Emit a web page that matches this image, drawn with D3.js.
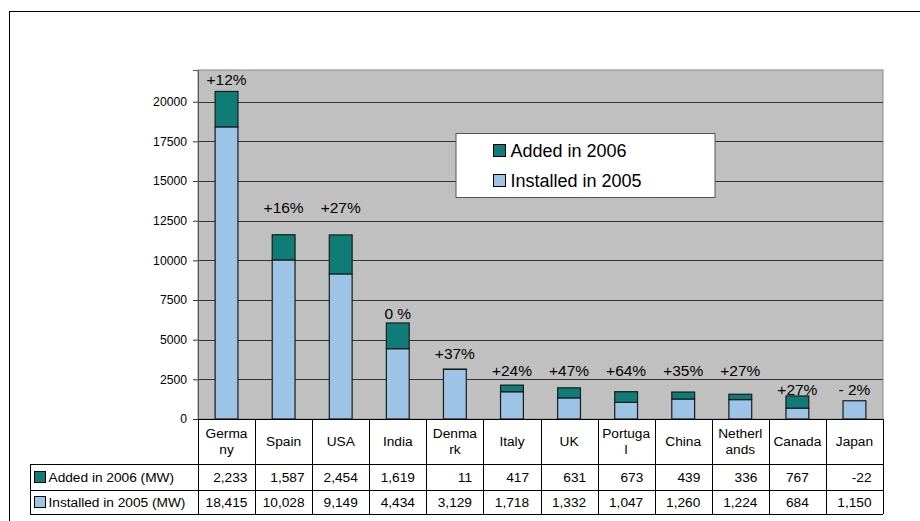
<!DOCTYPE html>
<html lang="en">
  <head>
    <meta charset="UTF-8" />
    <title>Wind capacity</title>
    <style>
      body { margin: 0; background: #fff; }
      svg { display: block; font-family: "Liberation Sans", Arial, sans-serif; }
    </style>
  </head>
  <body>
    <script src="https://d3js.org/d3.v7.min.js"></script>
    <script>
      const categories = ['Germany', 'Spain', 'USA', 'India', 'Denmark', 'Italy', 'UK', 'Portugal', 'China', 'Netherlands', 'Canada', 'Japan']
      const added2006 = [2233, 1587, 2454, 1619, 11, 417, 631, 673, 439, 336, 767, -22]
      const installed2005 = [18415, 10028, 9149, 4434, 3129, 1718, 1332, 1047, 1260, 1224, 684, 1150]
      const pctLabels = ['+12%', '+16%', '+27%', '0 %', '+37%', '+24%', '+47%', '+64%', '+35%', '+27%', '+27%', '- 2%']
      // height (MW) of the baseline of each % label
      const pctLabelLevel = [21050, 13000, 13000, 6300, 3760, 2710, 2710, 2710, 2710, 2710, 1513, 1513]
      const yTicks = [0, 2500, 5000, 7500, 10000, 12500, 15000, 17500, 20000]
      const seriesNames = ['Added in 2006', 'Installed in 2005']

      const width = 920
      const height = 521
      const plot = { left: 198, right: 883, top: 70, bottom: 419 }
      const colors = { added: '#0f7c78', installed: '#9dc3e6' }

      const svg = d3.select('body').append('svg')
        .attr('width', width).attr('height', height)

      // outer chart frame (runs off the page at right and bottom)
      svg.append('rect')
        .attr('x', 9.5).attr('y', 11.5)
        .attr('width', 1000).attr('height', 600)
        .attr('fill', '#fff').attr('stroke', '#000')

      const x = d3.scaleBand()
        .domain(categories)
        .range([plot.left, plot.right])
        .paddingInner(0.6)
        .paddingOuter(0.3)

      const col = d3.scaleBand()
        .domain(categories)
        .range([plot.left, plot.right])

      const y = d3.scaleLinear()
        .domain([0, 22000])
        .range([plot.bottom, plot.top])

      // plot background
      svg.append('rect')
        .attr('x', plot.left).attr('y', plot.top)
        .attr('width', plot.right - plot.left).attr('height', plot.bottom - plot.top)
        .attr('fill', '#c0c0c0').attr('stroke', '#8a8a8a')

      // gridlines
      svg.append('g')
        .selectAll('line')
        .data(yTicks.filter(d => d > 0))
        .enter()
        .append('line')
        .attr('x1', plot.left).attr('x2', plot.right)
        .attr('y1', d => Math.round(y(d)) + 0.5).attr('y2', d => Math.round(y(d)) + 0.5)
        .attr('stroke', '#333')

      // y axis
      const yAxis = g => g
        .attr('transform', `translate(${plot.left},0)`)
        .call(d3.axisLeft(y).tickValues(yTicks).tickFormat(d3.format('d')).tickSize(5).tickPadding(6))
        .call(g => g.select('.domain').attr('stroke', '#555'))
        .call(g => g.selectAll('.tick line').attr('stroke', '#333'))
        .call(g => g.selectAll('.tick text')
          .attr('font-size', '12.2px')
          .attr('font-family', '"Liberation Sans", Arial, sans-serif')
          .attr('fill', '#000'))
      svg.append('g').call(yAxis)

      // stacked bars
      const rows = categories.map((c, i) => ({ name: c, installed: installed2005[i], added: added2006[i] }))
      const stack = d3.stack().keys(['installed', 'added'])(rows)

      svg.append('g')
        .selectAll('g')
        .data(stack)
        .enter()
        .append('g')
        .attr('fill', d => colors[d.key])
        .selectAll('rect')
        .data(d => d.filter(s => s[1] > s[0]))
        .enter()
        .append('rect')
        .attr('x', d => x(d.data.name))
        .attr('y', d => y(d[1]))
        .attr('width', x.bandwidth())
        .attr('height', d => y(d[0]) - y(d[1]))
        .attr('stroke', '#1a1a1a')
        .attr('stroke-width', 1.2)

      // percent labels
      svg.append('g')
        .selectAll('text')
        .data(categories)
        .enter()
        .append('text')
        .attr('x', d => x(d) + x.bandwidth() / 2)
        .attr('y', (d, i) => y(pctLabelLevel[i]))
        .attr('text-anchor', 'middle')
        .attr('font-size', '15.5px')
        .attr('fill', '#000')
        .text((d, i) => pctLabels[i])

      // legend
      const legend = svg.append('g')
      legend.append('rect')
        .attr('x', 456).attr('y', 133.5)
        .attr('width', 259).attr('height', 64)
        .attr('fill', '#fff').attr('stroke', '#555')
      const legendColors = [colors.added, colors.installed]
      seriesNames.forEach((name, i) => {
        legend.append('rect')
          .attr('x', 493.5).attr('y', 144.5 + i * 30)
          .attr('width', 12).attr('height', 12)
          .attr('fill', legendColors[i]).attr('stroke', '#000')
        legend.append('text')
          .attr('x', 510.5).attr('y', 156.5 + i * 30)
          .attr('font-size', '18px')
          .attr('fill', '#000')
          .text(name)
      })

      // data table
      const fmt = d3.formatLocale({ decimal: '.', thousands: ',', grouping: [3], currency: ['', ''], minus: '-' }).format(',d')
      const table = svg.append('g').attr('stroke', '#000').attr('fill', 'none')
      const rowY = [419, 464, 490, 514]
      const tableLeft = 30

      // horizontal lines
      table.append('line').attr('x1', plot.left).attr('x2', plot.right).attr('y1', rowY[0] + 0.5).attr('y2', rowY[0] + 0.5)
      rowY.slice(1).forEach(yy => {
        table.append('line').attr('x1', tableLeft).attr('x2', plot.right).attr('y1', yy + 0.5).attr('y2', yy + 0.5)
      })
      // vertical lines
      const colEdges = categories.map(c => col(c)).concat([plot.right])
      colEdges.forEach(xx => {
        table.append('line').attr('x1', Math.round(xx) + 0.5).attr('x2', Math.round(xx) + 0.5)
          .attr('y1', rowY[0]).attr('y2', rowY[3])
      })
      table.append('line').attr('x1', tableLeft + 0.5).attr('x2', tableLeft + 0.5).attr('y1', rowY[1]).attr('y2', rowY[3])

      // category headers, wrapped by character like the original
      const headFont = 13.7
      const headers = svg.append('g').attr('font-size', headFont + 'px').attr('fill', '#000').attr('text-anchor', 'middle')
      categories.forEach(c => {
        const t = headers.append('text').attr('x', col(c) + col.bandwidth() / 2)
        const maxW = 3.53 * headFont
        const lines = []
        let cur = ''
        for (const ch of c) {
          t.text(cur + ch)
          if (t.node().getComputedTextLength() > maxW && cur.length) {
            lines.push(cur)
            cur = ch
          } else {
            cur += ch
          }
        }
        lines.push(cur)
        t.text(null)
        const baseY = lines.length === 1 ? [446] : [437.5, 454]
        lines.forEach((ln, k) => {
          t.append('tspan').attr('x', col(c) + col.bandwidth() / 2).attr('y', baseY[k]).text(ln)
        })
      })

      // table values
      const tableRows = [added2006, installed2005]
      const rowBase = [482, 507]
      const cells = svg.append('g').attr('font-size', headFont + 'px').attr('fill', '#000').attr('text-anchor', 'end')
      const cellNodes = tableRows.map((vals, r) =>
        vals.map((v, i) => cells.append('text').attr('y', rowBase[r]).text(fmt(v)))
      )
      categories.forEach((c, i) => {
        const w = Math.max(...cellNodes.map(rw => rw[i].node().getComputedTextLength()))
        const right = col(c) + col.bandwidth() / 2 + w / 2
        cellNodes.forEach(rw => rw[i].attr('x', right))
      })

      // table row legend
      const rowKeys = svg.append('g')
      seriesNames.forEach((name, r) => {
        rowKeys.append('rect')
          .attr('x', 34.5).attr('y', rowBase[r] - 10.5)
          .attr('width', 11).attr('height', 11)
          .attr('fill', legendColors[r]).attr('stroke', '#000')
        rowKeys.append('text')
          .attr('x', 48.5).attr('y', rowBase[r])
          .attr('font-size', headFont + 'px')
          .attr('fill', '#000')
          .text(name + ' (MW)')
      })
    </script>
  </body>
</html>
